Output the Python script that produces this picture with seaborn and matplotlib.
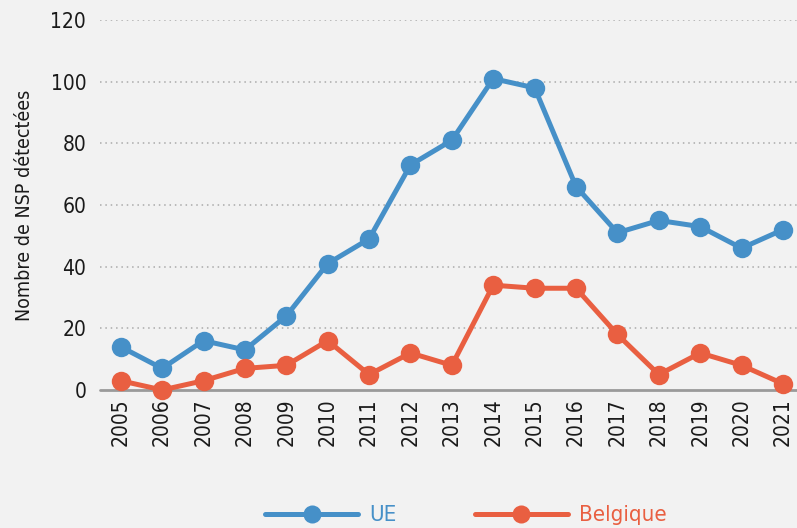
import numpy as np, pandas as pd
import matplotlib
matplotlib.use("Agg")
import matplotlib.pyplot as plt
import seaborn as sns

annees = list(range(2005, 2022))
ue = [14, 7, 16, 13, 24, 41, 49, 73, 81, 101, 98, 66, 51, 55, 53, 46, 52]
belgique = [3, 0, 3, 7, 8, 16, 5, 12, 8, 34, 33, 33, 18, 5, 12, 8, 2]
series = ["UE", "Belgique"]
couleurs = {"UE": "#4690c8", "Belgique": "#e95f41"}

df = pd.DataFrame({
    "annee": annees * 2,
    "valeur": ue + belgique,
    "serie": ["UE"] * len(annees) + ["Belgique"] * len(annees),
})

sns.set_style("white")
plt.rcParams['font.family'] = ['DejaVu Sans']
plt.rcParams['font.stretch'] = 'condensed'

fond = "#f2f2f2"
fig = plt.figure(figsize=(7.97, 5.28), dpi=100, facecolor=fond)
ax = fig.add_axes([0.1255, 0.2614, 0.8829, 0.7006], facecolor=fond)

sns.lineplot(data=df, x="annee", y="valeur", hue="serie", hue_order=series,
             palette=couleurs, marker="o", markersize=14, markeredgewidth=0,
             linewidth=3.6, ax=ax, clip_on=False, zorder=3)

ax.set_xlim(2004.5, 2021.5)
ax.set_ylim(0, 120)
ax.set_yticks(range(0, 121, 20))
ax.set_xticks(annees)
ax.set_xticklabels([str(a) for a in annees], rotation=90, fontsize=15)
ax.tick_params(axis="y", labelsize=15, length=0, pad=10)
ax.tick_params(axis="x", length=0, pad=6)
for t in ax.get_yticklabels() + ax.get_xticklabels():
    t.set_color("#1a1a1a")

# grille pointillée
for y in range(20, 121, 20):
    ax.axhline(y, color="#aaaaaa", linestyle=(0, (1, 2.5)), linewidth=1.1, zorder=1)
ax.axhline(0, color="#9a9a9a", linewidth=2, zorder=2, clip_on=False)

for s in ax.spines.values():
    s.set_visible(False)

ax.set_xlabel("")
ax.set_ylabel("Nombre de NSP détectées", fontsize=14, color="#1a1a1a", labelpad=12)

leg = ax.legend(loc="lower center", bbox_to_anchor=(0.52, -0.42), ncol=2,
                frameon=False, fontsize=16, handlelength=4.2, columnspacing=3.5,
                labelcolor="linecolor", handletextpad=0.5)
for h in leg.legend_handles:
    h.set_linewidth(3.6)
    h.set_markersize(13)

fig.savefig("out.png", dpi=100, facecolor=fond)
